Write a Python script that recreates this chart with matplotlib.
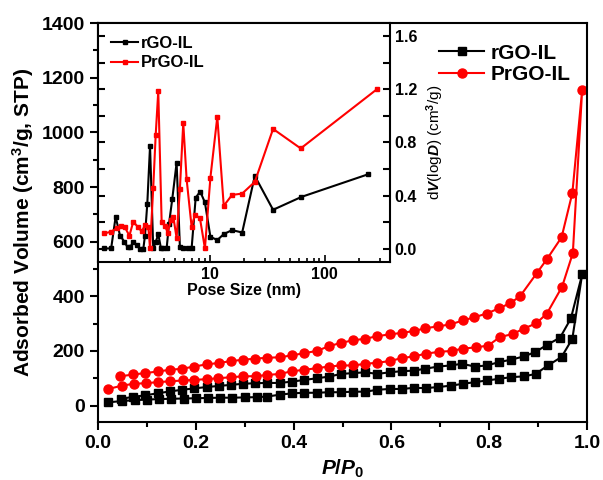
import numpy as np
import matplotlib
matplotlib.use('Agg')
import matplotlib.pyplot as plt
from matplotlib.ticker import MultipleLocator

plt.rcParams['font.family'] = ['Liberation Sans', 'DejaVu Sans']
plt.rcParams['font.weight'] = 'bold'
plt.rcParams['mathtext.fontset'] = 'custom'
plt.rcParams['mathtext.rm'] = 'Liberation Sans:bold'
plt.rcParams['mathtext.bf'] = 'Liberation Sans:bold'
plt.rcParams['mathtext.it'] = 'Liberation Sans:italic:bold'

# isotherms (adsorption up, then desorption back down)
rgo_p = [0.021, 0.05, 0.075, 0.1, 0.125, 0.15, 0.175, 0.2, 0.225, 0.25, 0.275, 0.3, 0.325,
         0.345, 0.372, 0.397, 0.422, 0.447, 0.472, 0.497, 0.522, 0.547, 0.571, 0.597, 0.621,
         0.646, 0.67, 0.696, 0.721, 0.747, 0.771, 0.795, 0.82, 0.844, 0.871, 0.895, 0.92,
         0.948, 0.97, 0.99,
         0.967, 0.945, 0.919, 0.894, 0.871, 0.844, 0.82, 0.795, 0.771, 0.744, 0.721, 0.696,
         0.669, 0.646, 0.621, 0.597, 0.571, 0.547, 0.522, 0.497, 0.472, 0.447, 0.422, 0.397,
         0.372, 0.345, 0.322, 0.297, 0.272, 0.247, 0.222, 0.197, 0.172, 0.147, 0.122, 0.097,
         0.072, 0.047]
rgo_v = [12, 17, 20, 22, 24, 25, 26, 27, 28, 29, 29, 30, 31,
         33, 40, 45, 47, 47, 49, 49, 51, 51, 58, 61, 61,
         65, 64, 68, 73, 80, 86, 92, 98, 104, 107, 116, 147,
         178, 245, 480,
         319, 249, 223, 196, 180, 168, 159, 147, 143, 153, 147, 143,
         135, 128, 126, 122, 116, 122, 119, 116, 106, 100, 94, 88,
         83, 83, 82, 80, 76, 72, 68, 63, 58, 52, 45, 38,
         32, 25]

prgo_p = [0.021, 0.049, 0.073, 0.098, 0.122, 0.148, 0.173, 0.197, 0.222, 0.246, 0.271, 0.297,
          0.324, 0.345, 0.372, 0.397, 0.422, 0.447, 0.472, 0.497, 0.522, 0.547, 0.571, 0.597,
          0.621, 0.646, 0.67, 0.698, 0.723, 0.747, 0.773, 0.798, 0.822, 0.848, 0.871, 0.896,
          0.918, 0.949, 0.971, 0.99,
          0.97, 0.948, 0.918, 0.897, 0.863, 0.843, 0.82, 0.795, 0.769, 0.747, 0.72, 0.695,
          0.669, 0.646, 0.621, 0.597, 0.571, 0.547, 0.522, 0.497, 0.472, 0.447, 0.422, 0.397,
          0.372, 0.345, 0.322, 0.297, 0.272, 0.247, 0.222, 0.197, 0.172, 0.147, 0.122, 0.097,
          0.072, 0.045]
prgo_v = [61, 73, 80, 82, 86, 89, 92, 94, 97, 100, 104, 107,
          108, 112, 116, 126, 131, 137, 143, 147, 147, 153, 157, 163,
          174, 180, 190, 197, 200, 209, 213, 220, 251, 262, 282, 301,
          337, 435, 558, 1154,
          778, 616, 536, 484, 400, 375, 356, 337, 323, 312, 297, 290,
          283, 273, 266, 261, 254, 245, 239, 230, 217, 200, 192, 184,
          177, 175, 172, 168, 163, 156, 151, 143, 135, 131, 125, 119,
          114, 107]

# pore size distribution (inset)
rgo_d = [1.205, 1.38, 1.51, 1.65, 1.80, 1.92, 2.01, 2.15, 2.31, 2.46, 2.63, 2.72, 2.85, 3.01,
         3.21, 3.37, 3.55, 3.75, 3.93, 4.20, 4.40, 4.70, 5.13, 5.48, 5.86, 6.40, 6.93, 7.52,
         8.24, 9.05, 10.1, 11.6, 13.2, 15.6, 19.1, 24.6, 35.5, 62.7, 238]
rgo_dv = [0.002, 0.002, 0.24, 0.098, 0.053, 0.01, 0.01, 0.048, 0.03, -0.002, -0.002, 0.098,
          0.34, 0.773, 0.002, 0.048, 0.11, 0.002, 0.002, 0.002, 0.185, 0.373, 0.648, 0.01,
          0.002, 0.002, 0.002, 0.385, 0.43, 0.348, 0.09, 0.065, 0.11, 0.14, 0.122, 0.548,
          0.293, 0.39, 0.56]
prgo_d = [1.205, 1.38, 1.55, 1.68, 1.82, 1.99, 2.15, 2.38, 2.55, 2.72, 2.91, 3.01, 3.21, 3.37,
          3.55, 3.80, 4.06, 4.28, 4.58, 4.80, 5.13, 5.48, 5.86, 6.27, 6.93, 7.41, 8.19, 9.05,
          10.1, 11.6, 13.2, 15.6, 19.1, 24.6, 35.5, 61.8, 287]
prgo_dv = [0.115, 0.128, 0.155, 0.173, 0.16, 0.098, 0.203, 0.16, 0.13, 0.178, 0.165, 0.002,
           0.46, 0.853, 1.185, 0.203, 0.173, 0.122, 0.215, 0.242, 0.08, 0.452, 0.947, 0.523,
           0.165, 0.255, 0.23, 0.002, 0.535, 0.993, 0.323, 0.405, 0.415, 0.503, 0.902, 0.755,
           1.203]

fig = plt.figure(figsize=(6.03, 4.8), dpi=100)
ax = fig.add_axes([0.1625, 0.1208, 0.811, 0.8312])

ax.plot(rgo_p, rgo_v, color='black', marker='s', markersize=5.5, linewidth=1.5, label='rGO-IL')
ax.plot(prgo_p, prgo_v, color='red', marker='o', markersize=6.5, linewidth=1.5, label='PrGO-IL')

ax.set_xlim(0, 1.0)
ax.set_ylim(-60, 1400)
ax.xaxis.set_major_locator(MultipleLocator(0.2))
ax.xaxis.set_minor_locator(MultipleLocator(0.1))
ax.yaxis.set_major_locator(MultipleLocator(200))
ax.yaxis.set_minor_locator(MultipleLocator(100))
ax.tick_params(which='major', direction='out', length=6, width=1.5, labelsize=14)
ax.tick_params(which='minor', direction='out', length=3.5, width=1.5)
ax.xaxis.set_major_formatter(plt.FuncFormatter(lambda v, p: '%.1f' % v))
for s in ax.spines.values():
    s.set_linewidth(1.5)
ax.set_xlabel(r'$\it{P/P_0}$', fontsize=15, labelpad=4)
ax.set_ylabel('Adsorbed Volume (cm$^3$/g, STP)', fontsize=15, fontweight='bold', labelpad=4)
ax.legend(loc='upper right', bbox_to_anchor=(1.005, 0.995), frameon=False, fontsize=15,
          handlelength=2.2, handletextpad=0.3, labelspacing=0.1)

# inset
ins = fig.add_axes([0.1625, 0.4542, 0.4842, 0.498])
ins.plot(rgo_d, rgo_dv, color='black', marker='s', markersize=3, linewidth=1.5, label='rGO-IL')
ins.plot(prgo_d, prgo_dv, color='red', marker='s', markersize=3, linewidth=1.5, label='PrGO-IL')
ins.set_xscale('log')
ins.set_xlim(1.06, 370)
ins.set_ylim(-0.1, 1.7)
ins.yaxis.set_major_locator(MultipleLocator(0.4))
ins.yaxis.set_minor_locator(MultipleLocator(0.2))
ins.yaxis.tick_right()
ins.yaxis.set_label_position('right')
ins.tick_params(axis='y', which='both', left=True, right=True, direction='in', width=1.5)
ins.tick_params(axis='y', which='major', length=5, labelsize=11.5)
ins.tick_params(axis='y', which='minor', length=5)
ins.tick_params(axis='x', which='both', direction='in', width=1.2, labelsize=11.5)
ins.tick_params(axis='x', which='major', length=5)
ins.tick_params(axis='x', which='minor', length=3)
ins.xaxis.set_major_formatter(plt.FuncFormatter(lambda v, p: '%d' % v))
ins.yaxis.set_major_formatter(plt.FuncFormatter(lambda v, p: '%.1f' % v))
for s in ins.spines.values():
    s.set_linewidth(1.5)
ins.set_xlabel('Pose Size (nm)', fontsize=11.5, fontweight='bold', labelpad=1)
ins.set_ylabel(r'd$V$(log$D$) (cm$^3$/g)', fontsize=11, labelpad=5)
ins.legend(loc='upper left', frameon=False, fontsize=12, handlelength=1.6,
           handletextpad=0.2, labelspacing=0.25, borderaxespad=0.4)

fig.savefig('out.png', dpi=100)
